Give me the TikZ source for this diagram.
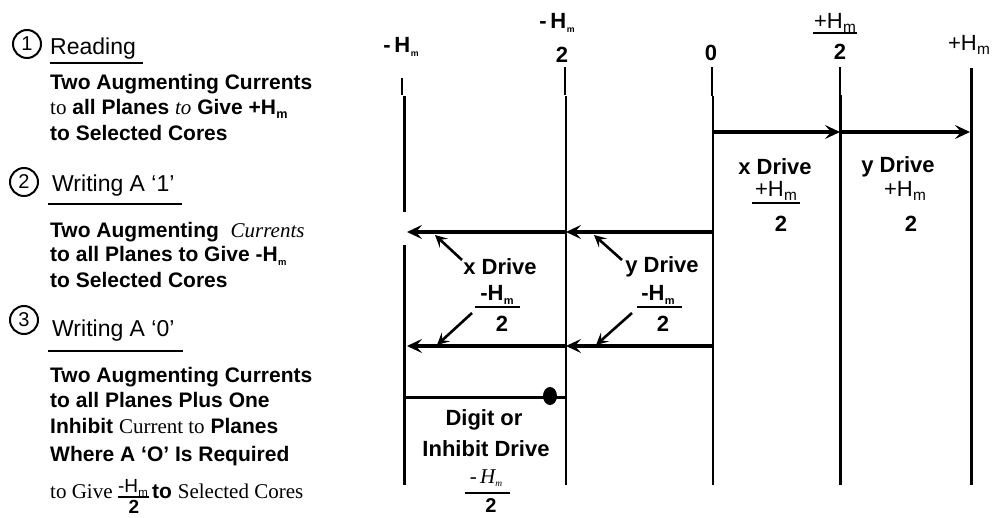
\documentclass[tikz,border=0pt]{standalone}
\usepackage{fontspec}
\usepackage{graphicx}
\setmainfont{Liberation Serif}
\setsansfont{Liberation Sans}
\usetikzlibrary{arrows.meta}
\newcommand\fs[1]{\fontsize{#1}{#1}\selectfont}
\newcommand\Hsub[1]{H\kern0.02em\raisebox{-0.35ex}{\scalebox{#1}{m}}}
\begin{document}
\begin{tikzpicture}[x=1pt,y=-1pt,
  txt/.style={anchor=base west, inner sep=0pt, font=\sffamily\bfseries\fs{21}},
  hdr/.style={anchor=base west, inner sep=0pt, font=\sffamily\fs{23}},
  num/.style={draw, circle, line width=2pt, minimum size=28pt, inner sep=0pt, font=\sffamily\fs{20}},
  lbl/.style={inner sep=0pt, font=\sffamily\bfseries\fs{22}},
  lblr/.style={inner sep=0pt, font=\sffamily\fs{22}},
  uline/.style={line width=1.7pt},
  bar/.style={line width=1.8pt},
  harr/.style={line width=3.2pt, -{Stealth[length=15pt,width=14pt,inset=6pt]}},
  ptr/.style={line width=2.6pt, -{Stealth[length=12pt,width=12pt,inset=5pt]}}]
\useasboundingbox (0,0) rectangle (993,518);

% ---------- left column ----------
\node[num] (c1) at (27,44) {1};
\node[hdr] (h1) at (50,55) {Reading};
\coordinate (u1a) at (50,63); \coordinate (u1b) at (143,63);
\draw[uline] (u1a) -- (u1b);
\node[txt] (t1a) at (50,90) {Two Augmenting Currents};
\node[txt] (t1b) at (50,115) {{\rmfamily\mdseries to} all Planes {\rmfamily\mdseries\itshape to} Give +\Hsub{0.6}};
\node[txt] (t1c) at (50,141) {to Selected Cores};

\node[num] (c2) at (24,182) {2};
\node[hdr] (h2) at (52,192) {Writing A ‘1’};
\coordinate (u2a) at (48,204); \coordinate (u2b) at (182,204);
\draw[uline] (u2a) -- (u2b);
\node[txt] (t2a) at (50,238) {Two Augmenting \ {\rmfamily\mdseries\itshape Currents}};
\node[txt] (t2b) at (50,262) {to all Planes to Give -\Hsub{0.45}};
\node[txt] (t2c) at (50,288) {to Selected Cores};

\node[num] (c3) at (24,320) {3};
\node[hdr] (h3) at (52,337) {Writing A ‘0’};
\coordinate (u3a) at (48,351); \coordinate (u3b) at (183,351);
\draw[uline] (u3a) -- (u3b);
\node[txt] (t3a) at (50,382) {Two Augmenting Currents};
\node[txt] (t3b) at (50,407) {to all Planes Plus One};
\node[txt] (t3c) at (50,433) {Inhibit {\rmfamily\mdseries Current to} Planes};
\node[txt] (t3d) at (50,461) {Where A ‘O’ Is Required};
\node[txt, font=\rmfamily\fs{21}] (t3e) at (50,498) {to Give};
\node[lblr, font=\sffamily\fs{19}] (t3n) at (133,488) {-\Hsub{0.6}};
\coordinate (b6a) at (118,497); \coordinate (b6b) at (149,497);
\draw[bar] (b6a) -- (b6b);
\node[lbl, font=\sffamily\bfseries\fs{19}] (t3d2) at (134,507) {2};
\node[txt] (t3f) at (152,498) {to {\rmfamily\mdseries Selected Cores}};

% ---------- scale labels ----------
\node[lbl] (lm) at (401,47) {-\,\Hsub{0.4}};
\node[lbl] (lmh) at (557,23) {-\,\Hsub{0.4}};
\node[lbl] (lmh2) at (562,55) {2};
\node[lbl] (lz) at (711,53) {0};
\node[lblr] (lph) at (835,23) {+\Hsub{0.7}};
\coordinate (b1a) at (813,33); \coordinate (b1b) at (857,33);
\draw[bar] (b1a) -- (b1b);
\node[lbl] (lph2) at (840,52) {2};
\node[lblr] (lp) at (969,45) {+\Hsub{0.7}};

% ---------- vertical lines ----------
\coordinate (k1a) at (402,78); \coordinate (k1b) at (402,95);
\coordinate (v1a) at (404,96); \coordinate (v1b) at (404,212);
\coordinate (v1c) at (404,245); \coordinate (v1d) at (404,485);
\draw[line width=1.5pt] (k1a) -- (k1b);
\draw[line width=3pt] (v1a) -- (v1b);
\draw[line width=3pt] (v1c) -- (v1d);

\coordinate (k2a) at (565,67); \coordinate (k2b) at (565,95);
\coordinate (v2a) at (566,96); \coordinate (v2b) at (566,485);
\draw[line width=2.6pt] (k2a) -- (k2b);
\draw[line width=1.8pt] (v2a) -- (v2b);

\coordinate (k3a) at (712,67); \coordinate (k3b) at (712,96);
\coordinate (v3a) at (713,96); \coordinate (v3b) at (713,485);
\draw[line width=1.5pt] (k3a) -- (k3b);
\draw[line width=2.2pt] (v3a) -- (v3b);

\coordinate (k4a) at (840,67); \coordinate (k4b) at (840,95);
\coordinate (v4a) at (840,95); \coordinate (v4b) at (840,485);
\draw[line width=1.5pt] (k4a) -- (k4b);
\draw[line width=3pt] (v4a) -- (v4b);

\coordinate (v5a) at (971,68); \coordinate (v5b) at (971,485);
\draw[line width=3pt] (v5a) -- (v5b);

% ---------- drive arrows ----------
\coordinate (r0) at (713,132); \coordinate (r1) at (840,132); \coordinate (r2) at (970,132);
\draw[harr] (r0) -- (r1);
\draw[harr] (r1) -- (r2);

\coordinate (p0) at (713,232); \coordinate (p1) at (566,232); \coordinate (p2) at (407,232);
\draw[harr] (p0) -- (p1);
\draw[harr] (p1) -- (p2);

\coordinate (q0) at (713,346); \coordinate (q1) at (566,346); \coordinate (q2) at (407,346);
\draw[harr] (q0) -- (q1);
\draw[harr] (q1) -- (q2);

\coordinate (d0) at (404,397); \coordinate (d1) at (566,397);
\draw[line width=3pt] (d0) -- (d1);
\fill (550,396) ellipse (7pt and 9pt);

% ---------- drive labels ----------
\node[lbl] (xd) at (775,167) {x Drive};
\node[lblr] (xdn) at (776,191) {+\Hsub{0.7}};
\coordinate (b2a) at (752,203); \coordinate (b2b) at (800,203);
\draw[bar] (b2a) -- (b2b);
\node[lbl] (xdd) at (781,224) {2};

\node[lbl] (yd) at (898,167) {y Drive};
\node[lblr] (ydn) at (905,191) {+\Hsub{0.7}};
\node[lbl] (ydd) at (911,224) {2};

\node[lbl] (xn) at (500,267) {x Drive};
\node[lbl] (xnn) at (497,295) {-\Hsub{0.5}};
\coordinate (b3a) at (475,307); \coordinate (b3b) at (520,307);
\draw[bar] (b3a) -- (b3b);
\node[lbl] (xnd) at (502,324) {2};

\node[lbl] (yn) at (662,267) {y Drive};
\node[lbl] (ynn) at (658,295) {-\Hsub{0.5}};
\coordinate (b4a) at (637,307); \coordinate (b4b) at (682,307);
\draw[bar] (b4a) -- (b4b);
\node[lbl] (ynd) at (663,324) {2};

\coordinate (s1) at (462,260); \coordinate (e1) at (435,235);
\coordinate (s2) at (622,260); \coordinate (e2) at (594,235);
\coordinate (s3) at (472,313); \coordinate (e3) at (437,345);
\coordinate (s4) at (632,313); \coordinate (e4) at (596,345);
\draw[ptr] (s1) -- (e1);
\draw[ptr] (s2) -- (e2);
\draw[ptr] (s3) -- (e3);
\draw[ptr] (s4) -- (e4);

\node[lbl] (dg) at (484,420) {Digit or};
\node[lbl] (ih) at (486,449) {Inhibit Drive};
\node[inner sep=0pt, font=\rmfamily\itshape\fs{21}] (ihn) at (486,478) {-\,H\raisebox{-0.3ex}{\scalebox{0.45}{m}}};
\coordinate (b5a) at (465,493); \coordinate (b5b) at (510,493);
\draw[bar] (b5a) -- (b5b);
\node[lbl, font=\sffamily\bfseries\fs{20}] (ihd) at (491,506) {2};
\end{tikzpicture}
\end{document}
